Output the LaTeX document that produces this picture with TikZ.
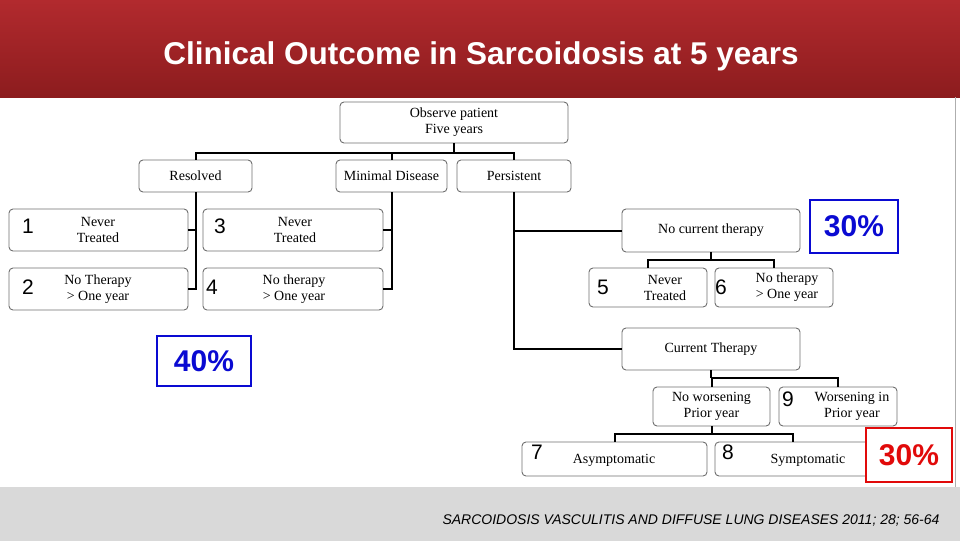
\documentclass[tikz,border=0pt]{standalone}
\usepackage{fontspec}
\setmainfont{Liberation Serif}
\newfontfamily\arialfont{Liberation Sans}
\definecolor{barRed}{RGB}{178,42,46}
\definecolor{barDark}{RGB}{140,28,30}
\definecolor{footGray}{RGB}{217,217,217}
\definecolor{boxLine}{RGB}{110,110,110}
\definecolor{pctBlue}{RGB}{10,10,210}
\definecolor{pctRed}{RGB}{225,10,10}
\tikzset{
  cbox/.style={draw=boxLine, rounded corners=4pt, line width=0.9pt, inner sep=0pt},
  ctext/.style={font=\fontsize{14}{16}\selectfont, align=center, inner sep=0pt},
  num/.style={font=\arialfont\fontsize{21}{21}\selectfont, inner sep=0pt},
  link/.style={line width=2pt, black},
  pct/.style={line width=2.5pt, inner sep=4pt, font=\arialfont\bfseries\fontsize{30}{30}\selectfont}
}
\begin{document}
\begin{tikzpicture}[x=1pt,y=-1pt]
\useasboundingbox (0,0) rectangle (960,541);
% header and footer
\shade[top color=barRed, bottom color=barDark] (0,0) rectangle (960,97);
\node[white, font=\arialfont\bfseries\fontsize{31.5}{32}\selectfont] (title) at (481,56) {Clinical Outcome in Sarcoidosis at 5 years};
\fill[footGray] (0,487) rectangle (960,541);
\draw[footGray!80!black, line width=1pt] (955,97) -- (955,487);
\node[anchor=east, font=\arialfont\itshape\fontsize{14}{14}\selectfont] (ref) at (943,520) {SARCOIDOSIS VASCULITIS AND DIFFUSE LUNG DISEASES 2011; 28; 56-64};
% boxes
\node[cbox, minimum width=228, minimum height=41] (obs) at (454,122.5) {};
\node[ctext] at (obs) {Observe patient\\Five years};
\node[cbox, minimum width=113, minimum height=32] (res) at (195.5,176) {};
\node[ctext] at (res) {Resolved};
\node[cbox, minimum width=111, minimum height=32] (min) at (391.5,176) {};
\node[ctext] at (min) {Minimal Disease};
\node[cbox, minimum width=114, minimum height=32] (per) at (514,176) {};
\node[ctext] at (per) {Persistent};
\node[cbox, minimum width=179, minimum height=42] (b1) at (98.5,230) {};
\node[ctext] at (98,230) {Never\\Treated};
\node[num] at (28,226) {1};
\node[cbox, minimum width=179, minimum height=42] (b2) at (98.5,289) {};
\node[ctext] at (98,289) {No Therapy\\{>} One year};
\node[num] at (28,287) {2};
\node[cbox, minimum width=180, minimum height=42] (b3) at (293,230) {};
\node[ctext] at (295,230) {Never\\Treated};
\node[num] at (220,226) {3};
\node[cbox, minimum width=180, minimum height=42] (b4) at (293,289) {};
\node[ctext] at (294,289) {No therapy\\{>} One year};
\node[num] at (212,287) {4};
\node[cbox, minimum width=178, minimum height=43] (nct) at (711,230.5) {};
\node[ctext] at (nct) {No current therapy};
\node[cbox, minimum width=118, minimum height=39] (b5) at (648,287.5) {};
\node[ctext] at (665,287.5) {Never\\Treated};
\node[num] at (603,287) {5};
\node[cbox, minimum width=118, minimum height=39] (b6) at (774,287.5) {};
\node[ctext] at (787,287.5) {No therapy\\{>} One year};
\node[num] at (721,287) {6};
\node[cbox, minimum width=178, minimum height=42] (ct) at (711,349) {};
\node[ctext] at (ct) {Current Therapy};
\node[cbox, minimum width=117, minimum height=39] (nw) at (711.5,406.5) {};
\node[ctext] at (nw) {No worsening\\Prior year};
\node[cbox, minimum width=118, minimum height=39] (b9) at (838,406.5) {};
\node[ctext] at (852,406.5) {Worsening in\\Prior year};
\node[num] at (788,399) {9};
\node[cbox, minimum width=185, minimum height=34] (b7) at (614.5,459) {};
\node[ctext] at (614,460) {Asymptomatic};
\node[num] at (537,452) {7};
\node[cbox, minimum width=155, minimum height=34] (b8) at (792.5,459) {};
\node[ctext] at (808,460) {Symptomatic};
\node[num] at (728,452) {8};
% percentages
\node[pct, draw=pctBlue, text=pctBlue, fill=white, minimum width=88, minimum height=53] (p1) at (854,226.5) {30\%};
\node[pct, draw=pctBlue, text=pctBlue, fill=white, minimum width=94, minimum height=50] (p2) at (204,361) {40\%};
\node[pct, draw=pctRed, text=pctRed, fill=white, minimum width=86, minimum height=54] (p3) at (909,455) {30\%};
% connectors
\draw[link] (obs.south) -- ++(0,10) coordinate (busA);
\draw[link] (res.north) |- (busA) -| (per.north);
\draw[link] (busA) -| (min.north);
\draw[link] (res.south) |- (b2.east);
\draw[link] (res.south |- b1.east) -- (b1.east);
\draw[link] (min.south) |- (b4.east);
\draw[link] (min.south |- b3.east) -- (b3.east);
\draw[link] (per.south) |- (ct.west);
\draw[link] (per.south |- nct.west) -- (nct.west);
\draw[link] (nct.south) -- ++(0,8) coordinate (busB);
\draw[link] (b5.north) |- (busB) -| (b6.north);
\draw[link] (ct.south) -- ++(0,8) coordinate (busC);
\draw[link] (nw.north) |- (busC) -| (b9.north);
\draw[link] (nw.south) -- ++(0,8) coordinate (busD);
\draw[link] (b7.north) |- (busD) -| (b8.north);
\end{tikzpicture}
\end{document}
